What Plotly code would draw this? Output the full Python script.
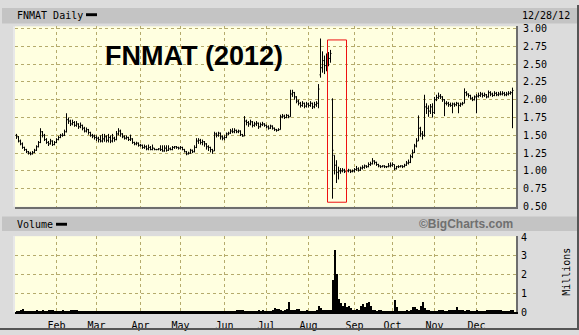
import plotly.graph_objects as go
import pandas as pd

# ---------------- data ----------------
holidays = ["2012-01-02", "2012-01-16", "2012-02-20", "2012-04-06", "2012-05-28",
            "2012-07-04", "2012-09-03", "2012-10-29", "2012-10-30", "2012-11-22",
            "2012-12-25"]
days = [d.strftime("%Y-%m-%d") for d in pd.bdate_range("2012-01-03", "2012-12-28")
        if d.strftime("%Y-%m-%d") not in holidays]

month_ticks = ["2012-02-01", "2012-03-01", "2012-04-02", "2012-05-01", "2012-06-01",
               "2012-07-02", "2012-08-01", "2012-09-04", "2012-10-01", "2012-11-01",
               "2012-12-03"]
month_labels = ["Feb", "Mar", "Apr", "May", "Jun", "Jul", "Aug", "Sep", "Oct", "Nov", "Dec"]

price_ticks = [0.5, 0.75, 1.0, 1.25, 1.5, 1.75, 2.0, 2.25, 2.5, 2.75, 3.0]
price_tick_labels = ["0.50", "0.75", "1.00", "1.25", "1.50", "1.75", "2.00", "2.25", "2.50", "2.75", "3.00"]
vol_ticks = [0, 1, 2, 3, 4]
vol_tick_labels = ["0", "1", "2", "3", "4"]

opens = [
    1.50,1.48,1.42,1.38,1.33,1.30,1.27,1.25,1.24,1.26,1.29,1.34,1.40,1.55,1.50,1.44,1.40,1.38,1.42,1.37,
    1.40,1.44,1.47,1.50,1.50,1.55,1.72,1.70,1.66,1.68,1.64,1.66,1.62,1.64,1.60,1.56,1.58,1.54,1.50,1.49,
    1.47,1.46,1.44,1.42,1.45,1.48,1.43,1.47,1.42,1.46,1.44,1.52,1.56,1.52,1.48,1.46,1.47,1.44,1.45,1.40,1.38,1.39,
    1.36,1.36,1.33,1.34,1.31,1.33,1.30,1.32,1.30,1.30,1.31,1.30,1.28,1.32,1.29,1.31,1.30,1.33,1.34,1.33,
    1.32,1.33,1.30,1.27,1.24,1.25,1.29,1.27,1.33,1.42,1.43,1.40,1.41,1.38,1.34,1.33,1.30,1.28,1.52,1.50,1.53,1.48,
    1.46,1.47,1.52,1.53,1.56,1.55,1.57,1.55,1.56,1.51,1.49,1.70,1.68,1.66,1.69,1.64,1.66,1.67,1.62,1.65,1.66,
    1.64,1.62,1.60,1.63,1.60,1.58,1.57,1.58,1.76,1.77,1.75,1.78,1.76,2.08,2.10,2.04,1.98,1.95,1.92,1.95,1.91,
    1.94,1.92,1.95,1.90,1.93,1.95,2.35,2.45,2.55,2.48,2.60,2.58,2.00,1.22,1.08,0.98,1.00,1.00,1.01,0.99,1.00,1.01,0.99,
    1.00,1.02,1.03,1.01,1.04,1.05,1.07,1.06,1.09,1.10,1.14,1.12,1.09,1.07,1.06,1.07,1.06,1.06,1.07,
    1.08,1.09,1.03,1.06,1.06,1.07,1.06,1.08,1.11,1.12,1.20,1.26,1.35,1.42,1.60,1.52,1.50,1.90,1.88,1.84,1.90,
    1.82,2.00,2.03,2.05,2.04,2.00,1.95,1.95,1.93,1.92,1.94,1.93,1.95,1.92,1.94,1.95,2.10,2.08,2.06,2.02,2.00,
    2.04,2.05,2.06,2.08,2.06,2.07,2.04,2.10,2.08,2.06,2.09,2.07,2.08,2.08,2.09,2.07,2.08,2.09,2.10,
]
highs = [
    1.52,1.49,1.44,1.40,1.34,1.31,1.28,1.27,1.28,1.31,1.36,1.42,1.60,1.56,1.52,1.46,1.42,1.45,1.43,1.42,
    1.46,1.49,1.52,1.53,1.58,1.81,1.75,1.72,1.72,1.70,1.70,1.67,1.68,1.65,1.62,1.61,1.59,1.55,1.52,1.51,
    1.50,1.48,1.50,1.52,1.52,1.50,1.52,1.50,1.52,1.48,1.56,1.60,1.58,1.53,1.50,1.50,1.48,1.51,1.46,1.41,1.41,1.40,
    1.38,1.37,1.37,1.36,1.37,1.35,1.37,1.32,1.31,1.32,1.36,1.36,1.36,1.36,1.36,1.33,1.35,1.35,1.35,1.34,
    1.35,1.34,1.31,1.28,1.27,1.31,1.30,1.36,1.46,1.46,1.45,1.44,1.42,1.39,1.36,1.34,1.31,1.55,1.54,1.55,1.54,1.50,
    1.50,1.54,1.55,1.59,1.60,1.60,1.58,1.58,1.57,1.52,1.77,1.72,1.70,1.72,1.70,1.69,1.70,1.68,1.68,1.69,1.67,
    1.65,1.64,1.65,1.64,1.61,1.59,1.60,1.79,1.80,1.79,1.80,1.79,2.14,2.14,2.11,2.05,2.00,1.97,1.98,1.96,1.97,
    1.96,1.98,1.96,1.97,1.98,2.22,2.86,2.68,2.62,2.65,2.67,2.70,2.02,1.22,1.15,1.06,1.04,1.04,1.03,1.02,1.03,1.02,1.02,
    1.04,1.07,1.05,1.06,1.08,1.09,1.08,1.12,1.13,1.18,1.15,1.13,1.10,1.08,1.08,1.08,1.07,1.11,1.12,
    1.12,1.09,1.07,1.08,1.08,1.08,1.10,1.14,1.16,1.23,1.30,1.38,1.46,1.78,1.62,1.56,2.07,1.95,1.92,1.94,1.95,
    2.04,2.07,2.10,2.08,2.05,2.01,1.98,1.97,1.96,1.96,1.96,1.97,1.96,1.96,1.97,2.16,2.12,2.09,2.07,2.04,2.06,
    2.08,2.10,2.11,2.10,2.10,2.08,2.13,2.12,2.10,2.12,2.11,2.11,2.12,2.12,2.11,2.11,2.12,2.12,2.17,
]
lows = [
    1.45,1.40,1.36,1.31,1.28,1.25,1.23,1.22,1.23,1.25,1.28,1.33,1.39,1.47,1.42,1.38,1.35,1.37,1.35,1.36,
    1.39,1.43,1.46,1.48,1.49,1.54,1.66,1.63,1.64,1.62,1.62,1.59,1.60,1.57,1.54,1.54,1.51,1.48,1.46,1.44,
    1.42,1.40,1.40,1.40,1.41,1.40,1.40,1.39,1.40,1.41,1.43,1.50,1.48,1.46,1.44,1.44,1.42,1.42,1.38,1.36,1.36,1.34,
    1.34,1.31,1.31,1.29,1.29,1.29,1.29,1.29,1.29,1.29,1.28,1.27,1.27,1.27,1.28,1.29,1.29,1.31,1.31,1.30,
    1.30,1.29,1.26,1.22,1.23,1.24,1.25,1.26,1.32,1.38,1.37,1.36,1.34,1.30,1.28,1.26,1.24,1.28,1.47,1.48,1.44,1.43,
    1.43,1.46,1.50,1.52,1.53,1.53,1.53,1.53,1.49,1.48,1.49,1.64,1.62,1.64,1.61,1.62,1.63,1.59,1.61,1.63,1.62,
    1.60,1.58,1.59,1.58,1.56,1.55,1.56,1.58,1.74,1.73,1.74,1.74,1.76,2.04,2.00,1.95,1.92,1.89,1.90,1.88,1.89,
    1.89,1.90,1.87,1.88,1.90,1.88,2.31,2.38,2.36,2.40,2.47,2.52,0.61,0.95,0.83,0.88,0.96,0.98,0.97,0.97,0.98,0.97,0.98,
    0.98,1.00,0.99,1.00,1.02,1.03,1.04,1.05,1.07,1.09,1.09,1.07,1.05,1.04,1.05,1.04,1.04,1.05,1.05,
    1.06,1.01,1.02,1.04,1.05,1.04,1.05,1.07,1.09,1.11,1.18,1.25,1.33,1.42,1.48,1.44,1.48,1.80,1.76,1.80,1.75,
    1.80,1.98,2.01,2.01,1.97,1.77,1.92,1.90,1.90,1.81,1.90,1.91,1.81,1.90,1.92,1.95,2.05,2.03,2.00,1.98,1.99,
    1.81,2.03,2.04,2.03,2.04,2.02,2.03,2.05,2.04,2.05,2.05,2.05,2.06,2.06,2.05,2.05,2.06,2.07,1.60,
]
closes = [
    1.48,1.42,1.38,1.33,1.30,1.27,1.25,1.24,1.26,1.29,1.34,1.40,1.55,1.50,1.44,1.40,1.38,1.42,1.37,1.40,
    1.44,1.47,1.50,1.50,1.55,1.72,1.70,1.66,1.68,1.64,1.66,1.62,1.64,1.60,1.56,1.58,1.54,1.50,1.49,1.47,
    1.46,1.44,1.42,1.45,1.48,1.43,1.47,1.42,1.46,1.44,1.52,1.56,1.52,1.48,1.46,1.47,1.44,1.45,1.40,1.38,1.39,1.36,
    1.36,1.33,1.34,1.31,1.33,1.30,1.32,1.30,1.30,1.31,1.30,1.28,1.32,1.29,1.31,1.30,1.33,1.34,1.33,1.32,
    1.33,1.30,1.27,1.24,1.25,1.29,1.27,1.33,1.42,1.43,1.40,1.41,1.38,1.34,1.33,1.30,1.28,1.52,1.50,1.53,1.48,1.46,
    1.47,1.52,1.53,1.56,1.55,1.57,1.55,1.56,1.51,1.49,1.70,1.68,1.66,1.69,1.64,1.66,1.67,1.62,1.65,1.66,1.64,
    1.62,1.60,1.63,1.60,1.58,1.57,1.58,1.76,1.77,1.75,1.78,1.76,2.08,2.10,2.04,1.98,1.95,1.92,1.95,1.91,1.94,
    1.92,1.95,1.90,1.93,1.95,2.15,2.45,2.55,2.48,2.60,2.58,2.65,1.29,1.08,0.98,1.00,1.00,1.01,0.99,1.00,1.01,0.99,1.00,
    1.02,1.03,1.01,1.04,1.05,1.07,1.06,1.09,1.10,1.14,1.12,1.09,1.07,1.06,1.07,1.06,1.06,1.07,1.08,
    1.09,1.03,1.06,1.06,1.07,1.06,1.08,1.11,1.12,1.20,1.26,1.35,1.42,1.60,1.52,1.50,1.90,1.88,1.84,1.90,1.82,
    2.00,2.03,2.05,2.04,2.00,1.95,1.95,1.93,1.92,1.94,1.93,1.95,1.92,1.94,1.95,2.10,2.08,2.06,2.02,2.00,2.04,
    2.05,2.06,2.08,2.06,2.07,2.04,2.10,2.08,2.06,2.09,2.07,2.08,2.08,2.09,2.07,2.08,2.09,2.10,2.13,
]
volume_millions = [
    0.02,0.03,0.05,0.14,0.04,0.02,0.02,0.02,0.02,0.03,0.05,0.02,0.03,0.05,0.02,0.03,0.10,0.10,0.08,0.02,
    0.02,0.02,0.02,0.05,0.02,0.02,0.02,0.06,0.06,0.06,0.06,0.02,0.01,0.01,0.01,0.01,0.01,0.01,0.01,0.01,
    0.01,0.01,0.01,0.01,0.01,0.01,0.01,0.01,0.01,0.01,0.01,0.01,0.01,0.01,0.01,0.01,0.01,0.01,0.01,0.01,0.01,0.01,
    0.01,0.01,0.01,0.01,0.01,0.01,0.01,0.01,0.01,0.01,0.01,0.01,0.01,0.01,0.01,0.01,0.01,0.01,0.01,0.01,
    0.01,0.01,0.01,0.01,0.01,0.01,0.01,0.01,0.01,0.01,0.01,0.01,0.01,0.01,0.01,0.01,0.01,0.01,0.01,0.01,0.01,0.01,
    0.04,0.01,0.01,0.01,0.01,0.01,0.07,0.07,0.05,0.07,0.02,0.02,0.02,0.04,0.02,0.02,0.02,0.10,0.03,0.10,0.03,
    0.02,0.02,0.03,0.05,0.20,0.18,0.15,0.10,0.03,0.05,0.15,0.53,0.05,0.10,0.10,0.18,0.15,0.03,0.02,0.03,0.10,
    0.02,0.02,0.03,0.02,0.05,0.30,0.20,0.10,0.05,0.05,0.05,0.08,1.70,3.30,2.00,0.67,0.50,0.30,0.45,0.25,0.30,0.20,0.10,
    0.10,0.15,0.12,0.30,0.40,0.25,0.45,0.53,0.30,0.10,0.05,0.03,0.05,0.05,0.02,0.02,0.02,0.02,0.03,
    0.02,0.63,0.25,0.03,0.03,0.03,0.03,0.05,0.03,0.05,0.25,0.25,0.15,0.05,0.30,0.53,0.20,0.08,0.05,0.03,0.03,
    0.02,0.02,0.05,0.05,0.05,0.02,0.02,0.08,0.10,0.10,0.12,0.28,0.08,0.05,0.05,0.02,0.05,0.07,0.02,0.02,0.02,
    0.08,0.02,0.02,0.02,0.02,0.05,0.05,0.05,0.05,0.05,0.05,0.05,0.05,0.02,0.02,0.02,0.02,0.12,0.12,
]
highlight_days = (155.5, 165.0)      # red box span (trading-day index)
highlight_prices = (0.56, 2.84)      # red box price span

# ---------------- figure ----------------
W, H = 579, 335
def px(x): return x / W
def py(y): return 1 - y / H

MONO = "DejaVu Sans Mono"
GRID = "#b5ab6c"
PLOT_BG = "#ffffe0"
XRANGE = [-0.75, 249.75]

fig = go.Figure()
fig.add_trace(go.Ohlc(
    x=days, open=opens, high=highs, low=lows, close=closes,
    increasing=dict(line=dict(color="black", width=1)),
    decreasing=dict(line=dict(color="black", width=1)),
    tickwidth=0.5, xaxis="x", yaxis="y", showlegend=False, hoverinfo="skip"))
fig.add_trace(go.Bar(
    x=days, y=volume_millions, width=1.0,
    marker=dict(color="black", line=dict(width=0)),
    xaxis="x2", yaxis="y2", showlegend=False, hoverinfo="skip"))

common_x = dict(type="category", range=XRANGE, tickvals=month_ticks, ticktext=month_labels,
                showgrid=True, gridcolor=GRID, griddash="dot", gridwidth=1,
                zeroline=False, ticks="", fixedrange=True,
                domain=[px(15), px(516)], showline=True, linewidth=2)

fig.update_layout(
    width=W, height=H, autosize=False,
    margin=dict(l=0, r=0, t=0, b=0),
    paper_bgcolor="#dcdcdc", plot_bgcolor=PLOT_BG,
    showlegend=False, bargap=0,
    xaxis=dict(**common_x, anchor="y", linecolor="#6e6e6e", showticklabels=False,
               rangeslider=dict(visible=False)),
    xaxis2=dict(**common_x, anchor="y2", linecolor="black", showticklabels=True,
                tickfont=dict(family=MONO, size=10, color="black"), ticklabelstandoff=3),
    yaxis=dict(domain=[py(208), py(22)], range=[0.496, 3.031], side="right", anchor="x",
               tickvals=price_ticks, ticktext=price_tick_labels,
               tickfont=dict(family=MONO, size=10, color="black"), ticklabelstandoff=3,
               showgrid=True, gridcolor=GRID, griddash="dot", zeroline=False, ticks="",
               showline=True, linecolor="#6e6e6e", linewidth=2),
    yaxis2=dict(domain=[py(316.7), py(238.3)], range=[-0.01, 4.05], side="right", anchor="x2",
                tickvals=vol_ticks, ticktext=vol_tick_labels,
                tickfont=dict(family=MONO, size=10, color="black"), ticklabelstandoff=1,
                showgrid=True, gridcolor=GRID, griddash="dot", zeroline=False, ticks="",
                showline=True, linecolor="#6e6e6e", linewidth=2),
)

shapes = [
    # header bands
    dict(type="rect", xref="paper", yref="paper", x0=px(2), x1=px(577), y0=py(19), y1=py(3),
         fillcolor="#c4c4c4", line=dict(width=0), layer="below"),
    dict(type="rect", xref="paper", yref="paper", x0=px(2), x1=px(577), y0=py(233), y1=py(218),
         fillcolor="#c4c4c4", line=dict(width=0), layer="below"),
    # legend dashes
    dict(type="rect", xref="paper", yref="paper", x0=px(86), x1=px(97), y0=py(11.5), y1=py(8.5),
         fillcolor="black", line=dict(width=0)),
    dict(type="rect", xref="paper", yref="paper", x0=px(56), x1=px(67), y0=py(227.5), y1=py(224.5),
         fillcolor="black", line=dict(width=0)),
    # outer frame (bevel)
    dict(type="line", xref="paper", yref="paper", x0=0, x1=1, y0=py(334), y1=py(334),
         line=dict(color="#555555", width=2)),
    dict(type="line", xref="paper", yref="paper", x0=px(578), x1=px(578), y0=0, y1=1,
         line=dict(color="#555555", width=2)),
    dict(type="line", xref="paper", yref="paper", x0=px(14), x1=px(14), y0=py(208), y1=py(22),
         line=dict(color="#f4f4f4", width=1)),
    dict(type="line", xref="paper", yref="paper", x0=px(14), x1=px(14), y0=py(317), y1=py(238),
         line=dict(color="#f4f4f4", width=1)),
    # red highlight box
    dict(type="rect", xref="x", yref="y", x0=highlight_days[0], x1=highlight_days[1],
         y0=highlight_prices[0], y1=highlight_prices[1],
         line=dict(color="#ee1111", width=1), fillcolor="rgba(0,0,0,0)"),
]
fig.update_layout(shapes=shapes)

ann = [
    dict(text="FNMAT Daily", x=px(15), y=py(10.5), xanchor="left", yanchor="middle",
         font=dict(family=MONO, size=10, color="black")),
    dict(text="12/28/12", x=px(572), y=py(10.5), xanchor="right", yanchor="middle",
         font=dict(family=MONO, size=10, color="black")),
    dict(text="Volume", x=px(15), y=py(226), xanchor="left", yanchor="middle",
         font=dict(family=MONO, size=10, color="black")),
    dict(text="<b>©BigCharts.com</b>", x=px(515), y=py(226), xanchor="right", yanchor="middle",
         font=dict(family="Liberation Sans, Arial", size=12, color="#707070")),
    dict(text="Millions", x=px(567), y=py(275), xanchor="center", yanchor="middle", textangle=-90,
         font=dict(family=MONO, size=10, color="black")),
    dict(text="<b>FNMAT (2012)</b>", x=px(194), y=py(53), xanchor="center", yanchor="middle",
         font=dict(family="Liberation Sans, Arial", size=27, color="black")),
]
for a in ann:
    a.update(xref="paper", yref="paper", showarrow=False)
fig.update_layout(annotations=ann)

fig.write_html("out.html")
